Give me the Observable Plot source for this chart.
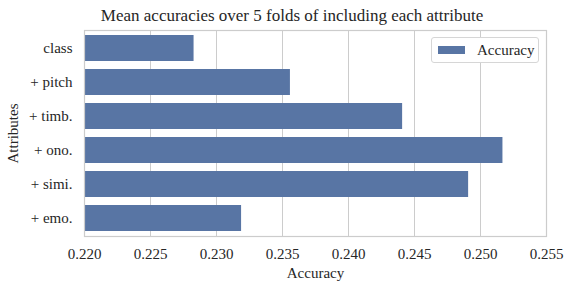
<!DOCTYPE html>
<html>
<head>
<meta charset="utf-8">
<script src="https://cdn.jsdelivr.net/npm/d3@7"></script>
<script src="https://cdn.jsdelivr.net/npm/@observablehq/plot@0.6"></script>
<style>
  body { margin: 0; background: #fff; font-family: "Liberation Serif", serif; color: #262626; }
  #wrap { position: relative; width: 564px; height: 282px; }
  #title { position: absolute; top: 7px; left: 0; width: 584px; line-height: 17px; font-size: 17px; text-align: center; white-space: nowrap; }
  #chart { position: absolute; top: 28px; left: 0; }
  #chart svg { display: block; overflow: visible; }
  #legend { position: absolute; left: 431px; top: 37px; width: 106px; height: 24px; border: 1px solid #d6d6d6; border-radius: 3px; background: #fff; font-size: 15px; display: flex; align-items: center; }
  #legend .sw { width: 27px; height: 8px; background: #5875a4; margin-left: 6px; margin-right: 12px; }
  svg, svg text { font-family: "Liberation Serif", serif !important; }
</style>
</head>
<body>
<div id="wrap">
  <div id="title">Mean accuracies over 5 folds of including each attribute</div>
  <div id="chart"></div>
  <div id="legend"><span class="sw"></span><span>Accuracy</span></div>
</div>
<script>
const attributes = ["class", "+ pitch", "+ timb.", "+ ono.", "+ simi.", "+ emo."];
const accuracy = [0.2283, 0.2356, 0.2441, 0.2517, 0.2491, 0.2319];
const xTicks = [0.220, 0.225, 0.230, 0.235, 0.240, 0.245, 0.250, 0.255];

const data = attributes.map((a, i) => ({attribute: a, accuracy: accuracy[i]}));

const chart = Plot.plot({
  width: 564,
  height: 254,
  marginTop: 2,
  marginBottom: 46,
  marginLeft: 84,
  marginRight: 18,
  style: {fontFamily: "'Liberation Serif', serif", fontSize: "15px", color: "#262626", background: "#fff"},
  x: {domain: [0.220, 0.255], ticks: xTicks, tickFormat: d3.format(".3f")},
  y: {domain: attributes, paddingInner: 0.25, paddingOuter: 0.125},
  marks: [
    Plot.gridX(xTicks, {stroke: "#cccccc", strokeOpacity: 1, strokeWidth: 1}),
    Plot.barX(data, {x1: 0.220, x2: "accuracy", y: "attribute", fill: "#5875a4"}),
    Plot.frame({stroke: "#cccccc", strokeWidth: 1.2}),
    Plot.axisX(xTicks, {tickSize: 0, tickPadding: 12, tickFormat: d3.format(".3f"), label: "Accuracy", labelAnchor: "center", labelArrow: "none", labelOffset: 41, fontSize: 15, fontFamily: "'Liberation Serif', serif"}),
    Plot.axisY({tickSize: 0, tickPadding: 12, label: "Attributes", labelAnchor: "center", labelArrow: "none", labelOffset: 77, fontSize: 15, fontFamily: "'Liberation Serif', serif"})
  ]
});
document.getElementById("chart").appendChild(chart);
</script>
</body>
</html>
